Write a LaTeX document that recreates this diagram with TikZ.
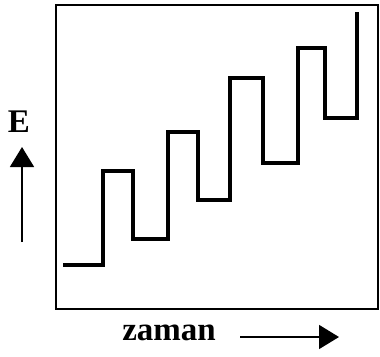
\documentclass[tikz,border=0pt]{standalone}
\usepackage{fontspec}
\setmainfont{Liberation Serif}
\usetikzlibrary{arrows.meta}
\begin{document}
\begin{tikzpicture}[x=1pt,y=-1pt,
  frame/.style={line width=2.8pt},
  stairs/.style={line width=4pt,line join=miter},
  axisarrow/.style={line width=1.6pt,-{Triangle[length=20pt,width=24pt]}},
  lbl/.style={font=\fontsize{33}{33}\selectfont\bfseries,inner sep=0pt}]
\useasboundingbox (0,0) rectangle (380,356);
\draw[frame] (56,5) rectangle (378,309);
\draw[stairs] (63,265) -- (103,265) -- (103,171) -- (133,171) -- (133,239)
  -- (168,239) -- (168,132) -- (198,132) -- (198,200) -- (230,200)
  -- (230,78) -- (263,78) -- (263,163) -- (298,163) -- (298,48)
  -- (325,48) -- (325,118) -- (357,118) -- (357,12);
\node[lbl] (E) at (19,122) {E};
\coordinate (ya) at (22,242);
\coordinate (yb) at (22,147);
\draw[axisarrow] (ya) -- (yb);
\node[lbl] (zaman) at (169,333) {zaman};
\coordinate (xa) at (240,337);
\coordinate (xb) at (339,337);
\draw[axisarrow] (xa) -- (xb);
\end{tikzpicture}
\end{document}
